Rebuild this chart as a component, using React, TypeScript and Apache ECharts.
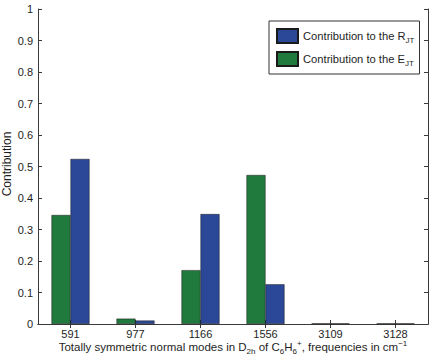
import React, { useEffect, useRef } from "react";
import * as echarts from "echarts";

// Totally symmetric normal modes (frequencies in cm^-1)
const modes = ["591", "977", "1166", "1556", "3109", "3128"];
// Contribution of each mode to E_JT and R_JT
const contributionE = [0.346, 0.017, 0.171, 0.473, 0.002, 0.002];
const contributionR = [0.524, 0.011, 0.349, 0.126, 0.002, 0.002];
const yTicks = [0, 0.1, 0.2, 0.3, 0.4, 0.5, 0.6, 0.7, 0.8, 0.9, 1];

const FONT = "'Liberation Sans', Arial, Helvetica, sans-serif";
const BLUE = "#2b4797";
const GREEN = "#20793d";
const AXIS = "#3a3a3a";
const TEXT = "#1e1e1e";

const legendNames: Record<string, string> = {
  R_JT: "{n|Contribution to the R}{sub|JT}",
  E_JT: "{n|Contribution to the E}{sub|JT}",
};

export default function App() {
  const ref = useRef<HTMLDivElement>(null);

  useEffect(() => {
    document.body.style.margin = "0";
    if (!ref.current) return;
    const chart = echarts.init(ref.current, undefined, { renderer: "svg" });

    const gridLeft = 38;
    const gridTop = 9;
    const gridWidth = 390;
    const gridHeight = 315;

    const tickStyle = { show: true, inside: true, length: 4, lineStyle: { color: AXIS, width: 1 } };
    const lineStyle = { show: true, lineStyle: { color: AXIS, width: 1 } };

    chart.setOption({
      animation: false,
      backgroundColor: "#ffffff",
      textStyle: { fontFamily: FONT },
      grid: { left: gridLeft, top: gridTop, width: gridWidth, height: gridHeight, containLabel: false },
      legend: {
        orient: "vertical",
        left: 269,
        top: 21,
        data: ["R_JT", "E_JT"],
        itemWidth: 21,
        itemHeight: 14,
        itemGap: 7,
        padding: [7, 5, 7, 7],
        borderColor: "#333333",
        borderWidth: 1,
        backgroundColor: "#ffffff",
        icon: "rect",
        formatter: (name: string) => legendNames[name],
        textStyle: {
          fontFamily: FONT,
          color: TEXT,
          rich: {
            n: { fontFamily: FONT, fontSize: 11.2, lineHeight: 16, color: TEXT },
            sub: { fontFamily: FONT, fontSize: 8, lineHeight: 8, verticalAlign: "bottom", color: TEXT },
          },
        },
      },
      xAxis: [
        {
          type: "category",
          data: modes,
          position: "bottom",
          boundaryGap: true,
          axisLine: lineStyle,
          axisTick: { ...tickStyle, alignWithLabel: true },
          axisLabel: { fontFamily: FONT, fontSize: 11, color: TEXT, margin: 4 },
          splitLine: { show: false },
        },
        {
          type: "category",
          data: modes,
          position: "top",
          boundaryGap: true,
          axisLine: lineStyle,
          axisTick: { ...tickStyle, alignWithLabel: true },
          axisLabel: { show: false },
          splitLine: { show: false },
        },
      ],
      yAxis: [
        {
          type: "value",
          min: yTicks[0],
          max: yTicks[yTicks.length - 1],
          interval: 0.1,
          position: "left",
          axisLine: lineStyle,
          axisTick: tickStyle,
          axisLabel: {
            fontFamily: FONT,
            fontSize: 11,
            color: TEXT,
            margin: 5,
            formatter: (v: number) => String(Math.round(v * 10) / 10),
          },
          splitLine: { show: false },
        },
        {
          type: "value",
          min: yTicks[0],
          max: yTicks[yTicks.length - 1],
          interval: 0.1,
          position: "right",
          axisLine: lineStyle,
          axisTick: tickStyle,
          axisLabel: { show: false },
          splitLine: { show: false },
        },
      ],
      series: [
        {
          name: "E_JT",
          type: "bar",
          data: contributionE,
          barWidth: 19,
          barGap: "0%",
          itemStyle: { color: GREEN, borderColor: "#1a1a1a", borderWidth: 0.5 },
        },
        {
          name: "R_JT",
          type: "bar",
          data: contributionR,
          barWidth: 19,
          barGap: "0%",
          itemStyle: { color: BLUE, borderColor: "#1a1a1a", borderWidth: 0.5 },
        },
      ],
      graphic: [
        {
          type: "text",
          x: 7,
          y: 164,
          rotation: Math.PI / 2,
          style: {
            text: "Contribution",
            fontFamily: FONT,
            fontSize: 12,
            fill: TEXT,
            align: "center",
            verticalAlign: "middle",
          },
        },
        {
          type: "text",
          x: gridLeft + gridWidth / 2,
          y: 347,
          style: {
            text:
              "{n|Totally symmetric normal modes in D}{sub|2h}{n| of C}{sub|6}{n|H}{sub|6}{sup|+}{n|, frequencies in cm}{sup|−1}",
            fontFamily: FONT,
            fill: TEXT,
            align: "center",
            verticalAlign: "middle",
            rich: {
              n: { fontFamily: FONT, fontSize: 11.5, lineHeight: 16, fill: TEXT },
              sub: { fontFamily: FONT, fontSize: 8, lineHeight: 8, verticalAlign: "bottom", fill: TEXT },
              sup: { fontFamily: FONT, fontSize: 8, lineHeight: 8, verticalAlign: "top", fill: TEXT },
            },
          },
        },
      ],
    });

    return () => chart.dispose();
  }, []);

  return (
    <div
      ref={ref}
      style={{ position: "absolute", left: 0, top: 0, width: 434, height: 354 }}
    />
  );
}
